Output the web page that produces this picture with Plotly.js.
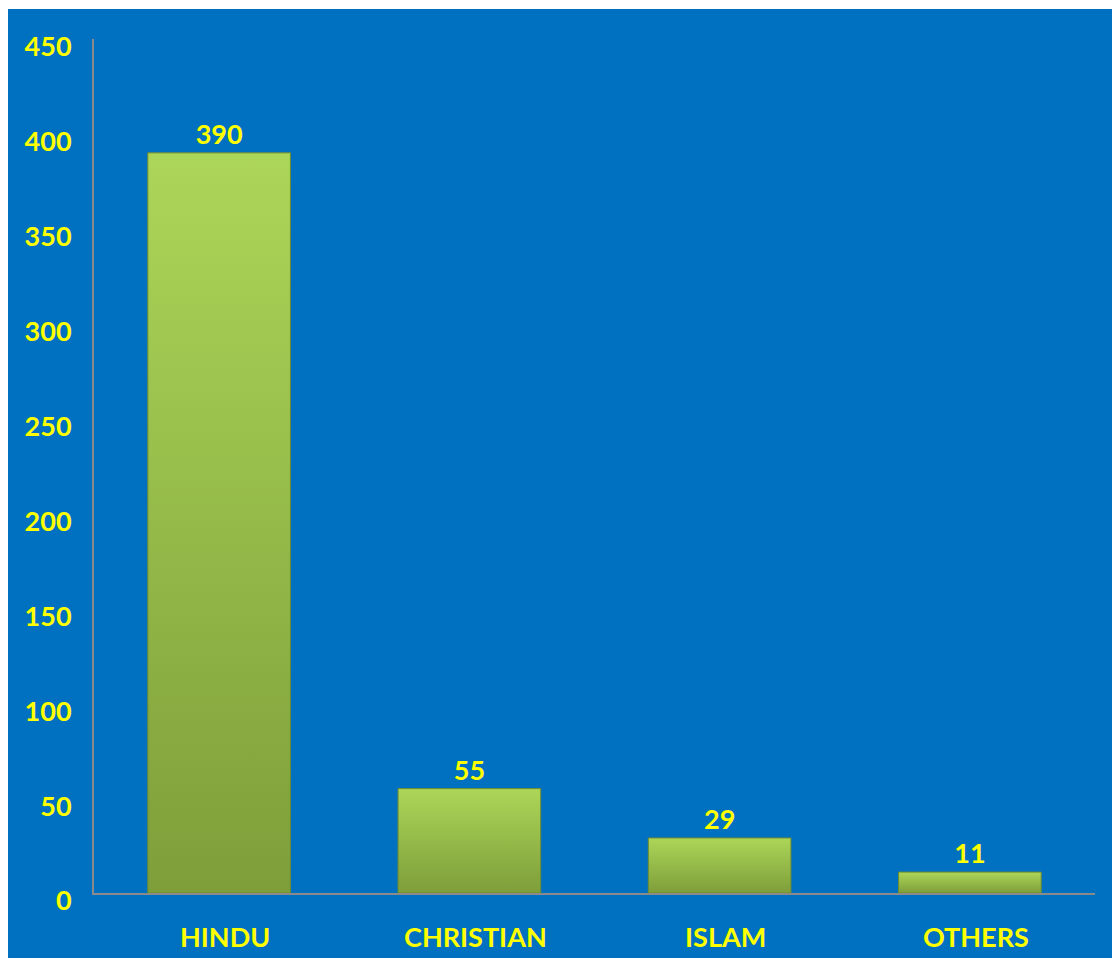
<!DOCTYPE html>
<html>
<head>
<meta charset="utf-8">
<script src="https://cdn.plot.ly/plotly-3.0.1.min.js"></script>
<style>
  html, body { margin: 0; padding: 0; background: #ffffff; }
  #chart { position: absolute; left: 8px; top: 9px; width: 1104px; height: 949px; background: #0070C0; }
</style>
</head>
<body>
<div id="chart"></div>
<script>
const categories = ["HINDU", "CHRISTIAN", "ISLAM", "OTHERS"];
const values = [390, 55, 29, 11];
const yTicks = [0, 50, 100, 150, 200, 250, 300, 350, 400, 450];

const FONT = "Lato, 'Open Sans', sans-serif";
const YELLOW = "#FFFF00";

const trace = {
  type: "bar",
  x: categories,
  y: values,
  width: 0.57,
  marker: { color: "#97BA49", line: { color: "#6F8C2E", width: 1 } },
  text: values.map(String),
  textposition: "outside",
  cliponaxis: false,
  textfont: { family: FONT, size: 27, color: YELLOW, weight: "bold" },
  hoverinfo: "skip"
};

const layout = {
  width: 1104,
  height: 949,
  paper_bgcolor: "#0070C0",
  plot_bgcolor: "#0070C0",
  margin: { l: 86, r: 17, t: 30, b: 65 },
  showlegend: false,
  bargap: 0.43,
  xaxis: {
    type: "category",
    showgrid: false,
    zeroline: false,
    showline: true,
    linecolor: "#8A8A8A",
    linewidth: 2,
    ticks: "",
    ticklabelstandoff: 20,
    ticklabelshift: 6,
    tickfont: { family: FONT, size: 27, color: YELLOW, weight: "bold" }
  },
  yaxis: {
    range: [0, 450],
    tickvals: yTicks,
    ticktext: yTicks.map(String),
    showgrid: false,
    zeroline: false,
    showline: true,
    linecolor: "#8A8A8A",
    linewidth: 2,
    ticks: "",
    ticklabelstandoff: 15,
    ticklabelshift: 8,
    tickfont: { family: FONT, size: 27, color: YELLOW, weight: "bold" }
  }
};

Plotly.newPlot("chart", [trace], layout, { staticPlot: true, displayModeBar: false }).then(function (gd) {
  const svg = gd.querySelector("svg.main-svg");
  const ns = "http://www.w3.org/2000/svg";
  let defs = svg.querySelector("defs");
  if (!defs) { defs = document.createElementNS(ns, "defs"); svg.insertBefore(defs, svg.firstChild); }
  const grad = document.createElementNS(ns, "linearGradient");
  grad.setAttribute("id", "barGrad");
  grad.setAttribute("x1", "0"); grad.setAttribute("y1", "0");
  grad.setAttribute("x2", "0"); grad.setAttribute("y2", "1");
  [["0", "#ACD658"], ["1", "#7E9E3A"]].forEach(function (s) {
    const st = document.createElementNS(ns, "stop");
    st.setAttribute("offset", s[0]);
    st.setAttribute("stop-color", s[1]);
    grad.appendChild(st);
  });
  defs.appendChild(grad);
  gd.querySelectorAll(".bars .point path").forEach(function (p) {
    p.style.fill = "url(#barGrad)";
  });
});
</script>
</body>
</html>
